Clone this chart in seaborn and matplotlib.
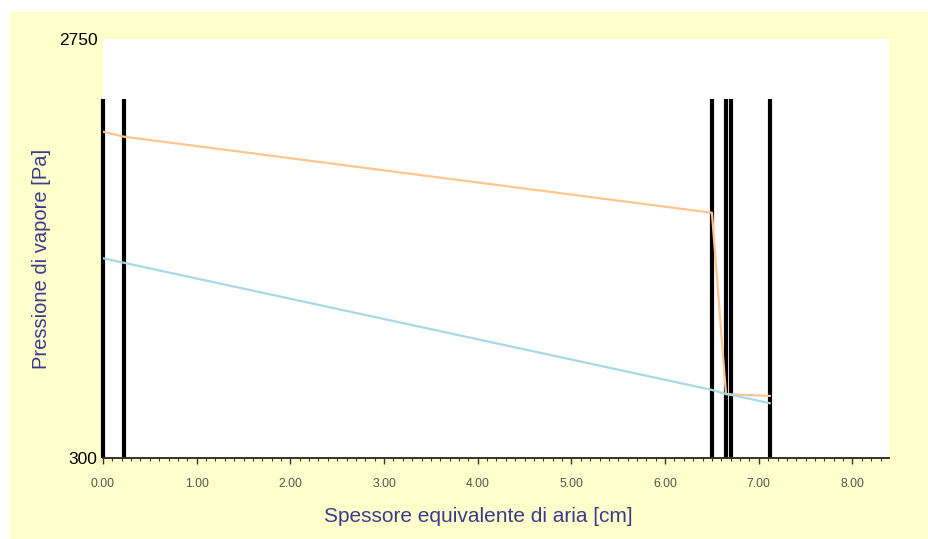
import matplotlib
matplotlib.use("Agg")
import matplotlib.pyplot as plt
import matplotlib.patches as patches
from matplotlib.ticker import MultipleLocator, FormatStrFormatter
import seaborn as sns
import pandas as pd

# layer interfaces (equivalent air thickness, cm)
interfaces = [0.0, 0.22, 6.50, 6.65, 6.70, 7.12]
# saturation pressure (orange) and actual vapour pressure (blue), Pa
p_sat = [2208, 2179, 1734, 674, 672, 663]
p_vap = [1468, 1442, 698, 674, 670, 620]
line_top = 2400
y_ticks = [300, 2750]
x_ticks = [0, 1, 2, 3, 4, 5, 6, 7, 8]

df = pd.DataFrame({"x": interfaces, "psat": p_sat, "pv": p_vap})

sns.set_theme(style="white")
plt.rcParams["font.family"] = ["Liberation Sans", "DejaVu Sans"]

fig = plt.figure(figsize=(9.29, 5.39), dpi=100, facecolor="white")
fig.patches.append(patches.Rectangle((10 / 929, 0), 1, 527 / 539, transform=fig.transFigure,
                                     facecolor="#FFFFCC", edgecolor="none", zorder=-10))
ax = fig.add_axes([103 / 929, 81 / 539, 786 / 929, 419 / 539])
ax.set_facecolor("white")

# layer boundaries
ax.vlines(interfaces, y_ticks[0], line_top, colors="black",
          linewidth=3, zorder=2, clip_on=False)

sns.lineplot(data=df, x="x", y="psat", sort=False, color="#FFC58F", linewidth=1.6, ax=ax, zorder=3)
sns.lineplot(data=df, x="x", y="pv", sort=False, color="#A9D9E6", linewidth=1.6, ax=ax, zorder=3)

ax.set_xlim(0, 8.39)
ax.set_ylim(y_ticks[0], y_ticks[1])

for s in ["top", "right", "left"]:
    ax.spines[s].set_visible(False)
ax.spines["bottom"].set_color("#333333")
ax.spines["bottom"].set_linewidth(1.4)

ax.set_yticks(y_ticks)
ax.set_yticklabels([str(v) for v in y_ticks])
ax.tick_params(axis="y", length=0, pad=4, labelsize=12.5, labelcolor="black")

ax.set_xticks(x_ticks)
ax.xaxis.set_major_formatter(FormatStrFormatter("%.2f"))
ax.xaxis.set_minor_locator(MultipleLocator(0.1))
ax.tick_params(axis="x", which="major", direction="out", length=4.5, width=1, color="#333333",
               bottom=True, pad=10, labelsize=8.8, labelcolor="#555555")
ax.tick_params(axis="x", which="minor", direction="out", length=2, width=0.8, color="#333333",
               bottom=True)

ax.set_xlabel("Spessore equivalente di aria [cm]", fontsize=15, color="#3B3B8F")
ax.set_ylabel("Pressione di vapore [Pa]", fontsize=14.5, color="#3B3B8F")
ax.xaxis.set_label_coords(0.477, -0.118)
ax.yaxis.set_label_coords(-0.066, 0.475)

fig.savefig("out.png", dpi=100, facecolor=fig.get_facecolor())
